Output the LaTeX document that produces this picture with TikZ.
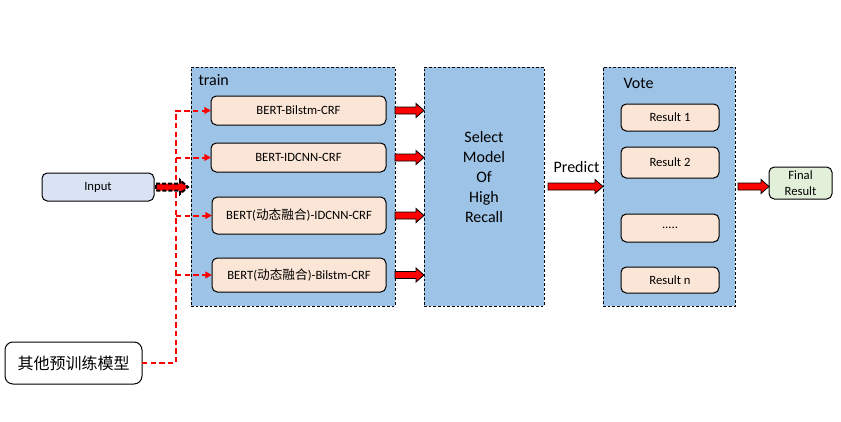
\documentclass[tikz,border=0pt]{standalone}
\usepackage{fontspec}
\setmainfont{Carlito}
\newfontfamily\cjk{Noto Sans CJK SC}
\usetikzlibrary{arrows.meta,calc}

\tikzset{every picture/.style={line width=0.75pt}}
\definecolor{groupblue}{HTML}{9DC3E6}
\definecolor{modelpeach}{HTML}{FBE5D6}
\definecolor{inputblue}{HTML}{DAE3F3}
\definecolor{finalgreen}{HTML}{E2F0D9}
\tikzset{
  group/.style={draw, fill=groupblue, dash pattern=on 2pt off 1.5pt, inner sep=0pt, outer sep=0pt,
    minimum height=179.25pt},
  model/.style={draw, fill=modelpeach, rounded corners=4pt, inner sep=0pt, outer sep=0pt,
    font=\fontsize{9.5}{11}\selectfont},
  feed/.style={red, line width=1.5pt, dash pattern=on 4pt off 2.5pt, -{Triangle[length=5pt,width=5pt]}},
  fatarrow/.style={fill=red, draw=black, line width=0.6pt, line join=miter},
  bigtext/.style={font=\fontsize{12}{15}\selectfont, inner sep=0pt},
}
\newcommand{\blockarrow}[3][]{%
  \draw[fatarrow,#1] ($(#2)+(0,-3.5)$) -- ($(#3)+(-8,-3.5)$) -- ($(#3)+(-8,-7)$) -- (#3)
    -- ($(#3)+(-8,7)$) -- ($(#3)+(-8,3.5)$) -- ($(#2)+(0,3.5)$) -- cycle;}

\begin{document}
\begin{tikzpicture}[x=0.75pt,y=0.75pt,yscale=-1,xscale=1]
\useasboundingbox (0,0) rectangle (841,421);
% the three big groups
\node[group, minimum width=153pt] (train) at (293,186.5) {};
\node[group, minimum width=90pt] (select) at (484,186.5) {};
\node[group, minimum width=99pt] (vote) at (669,186.5) {};
\node[bigtext, anchor=base west] (trainlbl) at (198,85) {train};
\node[bigtext, anchor=base west] (votelbl) at (623,88) {Vote};
\node[bigtext, align=center] (selecttxt) at (484,177) {Select\\Model\\Of\\High\\Recall};

% models
\node[model, minimum width=131.25pt, minimum height=21.75pt] (bert1) at (298.5,110.5) {BERT-Bilstm-CRF};
\node[model, minimum width=131.25pt, minimum height=21.75pt] (bert2) at (298.5,157.5) {BERT-IDCNN-CRF};
\node[model, minimum width=130.5pt, minimum height=27.75pt] (bert3) at (299,215.5) {BERT({\cjk 动态融合})-IDCNN-CRF};
\node[model, minimum width=130.5pt, minimum height=25.5pt] (bert4) at (299,275) {BERT({\cjk 动态融合})-Bilstm-CRF};

% results
\node[model, minimum width=73.5pt, minimum height=20.25pt] (res1) at (670,117.5) {Result 1};
\node[model, minimum width=73.5pt, minimum height=23.25pt] (res2) at (670,162.5) {Result 2};
\node[model, minimum width=73.5pt, minimum height=21pt] (resdots) at (670,228) {.....};
\node[model, minimum width=73.5pt, minimum height=19.5pt] (resn) at (670,280) {Result n};

\node[model, fill=inputblue, minimum width=84pt, minimum height=21pt] (input) at (98,187) {Input};
\node[model, fill=white, rounded corners=6pt, minimum width=102.75pt, minimum height=31.5pt,
  font=\cjk\fontsize{12}{14}\selectfont] (other) at (73.5,363) {其他预训练模型};
\node[model, fill=finalgreen, align=center, minimum width=47.25pt, minimum height=24pt,
  font=\fontsize{9.5}{12.5}\selectfont] (final) at (800.5,183) {Final\\Result};

% red dashed feeds
\coordinate (bus) at (176,0);
\draw[feed] (other.east) -| (bus |- bert1.west) -- (bert1.west);
\foreach \m in {bert2,bert3,bert4}
  \draw[feed] (bus |- \m.west) -- (\m.west);

% block arrows
\coordinate (inA) at ($(input.east)+(2,0)$);
\coordinate (inB) at ($(input.east -| train.west)+(-3,0)$);
\blockarrow[dash pattern=on 3pt off 1.5pt, line width=1.5pt]{inA}{inB}
\foreach \m in {bert1,bert2,bert3,bert4}
  \blockarrow{\m.east -| train.east}{\m.east -| select.west}
\coordinate (pA) at ($(select.east)+(4,0)$);
\blockarrow{pA}{pA -| vote.west}
\node[bigtext, anchor=base] (predict) at (576.5,172) {Predict};
\coordinate (vA) at ($(vote.east)+(3,0)$);
\blockarrow{vA}{vA -| final.west}
\end{tikzpicture}
\end{document}
